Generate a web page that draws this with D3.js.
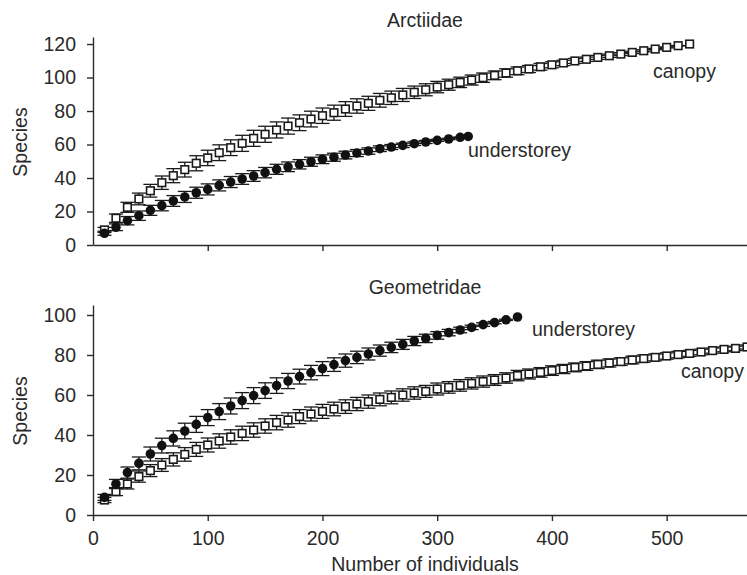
<!DOCTYPE html>
<html>
<head>
<meta charset="utf-8">
<style>
  body { margin: 0; background: #fff; }
  svg { display: block; font-family: "Liberation Sans", Arial, sans-serif; }
  .axis path, .axis line { stroke: #2a2a2a; stroke-width: 1.4; }
  .axis text { font-size: 19.5px; fill: #2a2a2a; }
  .lbl { font-size: 19.5px; fill: #2a2a2a; }
</style>
</head>
<body>
<div id="chart"></div>
<script src="https://d3js.org/d3.v7.min.js"></script>
<script>
// sample sizes (number of individuals)
const arcCanopyN = d3.range(10, 521, 10);
const arcUnderN = d3.range(10, 321, 10).concat([327]);
const geoUnderN = d3.range(10, 371, 10);
const geoCanopyN = d3.range(10, 571, 10);

// Arctiidae - canopy
const arcCanopy = [9, 16, 22.5, 27.5, 32.4, 37.2, 41.4, 45, 48.8, 52, 55.1, 58.1, 60.7,
  63.7, 66.1, 68.7, 71, 73, 75.2, 77.2, 79, 81.2, 83, 84.6, 86.4, 87.9, 89.6, 91.2, 92.7,
  94.3, 95.7, 97.1, 98.5, 99.9, 101.3, 102.7, 104, 105.1, 106.4, 107.6, 108.7, 109.9,
  110.9, 112, 113, 114, 115, 116, 117, 118, 119, 120];
const arcCanopyErr = [1.5, 2.5, 3, 3.5, 3.8, 4, 4.2, 4.4, 4.5, 4.6, 4.7, 4.7, 4.8, 4.8,
  4.8, 4.8, 4.8, 4.7, 4.7, 4.6, 4.5, 4.4, 4.3, 4.2, 4.1, 4, 3.9, 3.7, 3.6, 3.4, 3.3, 3.1,
  3, 2.8, 2.6, 2.5, 2.3, 2.1, 2, 1.8, 1.6, 1.5, 1.3, 1.2, 1, 0.9, 0.7, 0.6, 0.4, 0.3, 0.1, 0];

// Arctiidae - understorey
const arcUnder = [7, 10.6, 14.5, 17.5, 20.7, 23.5, 26.3, 28.7, 31.2, 33.2, 35.6, 37.6,
  39.4, 41.2, 43.2, 45.2, 46.7, 48.2, 49.7, 51.2, 52.4, 53.7, 54.9, 56.1, 57.5, 58.5,
  59.5, 60.5, 61.5, 62.5, 63.3, 64.3, 64.8];
const arcUnderErr = [1.2, 2, 2.5, 2.8, 3, 3.1, 3.2, 3.3, 3.3, 3.3, 3.3, 3.3, 3.2, 3.2,
  3.1, 3, 2.9, 2.8, 2.7, 2.6, 2.4, 2.3, 2.1, 1.9, 1.7, 1.5, 1.3, 1.1, 0.9, 0.6, 0.4, 0.2, 0];

// Geometridae - understorey
const geoUnder = [8.8, 15.5, 21.2, 25.8, 30.5, 34.7, 38.3, 42, 45.3, 48.7, 51.7, 54.5,
  57.2, 59.7, 62.2, 64.7, 67, 69.2, 71.2, 73.2, 75.2, 77.2, 78.8, 80.5, 82.2, 83.8, 85.3,
  87, 88.3, 89.8, 91.2, 92.5, 93.8, 95.2, 96.2, 97.6, 99];
const geoUnderErr = [1.5, 2.3, 2.8, 3.2, 3.5, 3.7, 3.8, 3.9, 4, 4, 4, 4, 4, 4, 3.9, 3.9,
  3.8, 3.7, 3.6, 3.5, 3.4, 3.3, 3.1, 3, 2.8, 2.6, 2.5, 2.3, 2.1, 1.9, 1.6, 1.4, 1.1, 0.9,
  0.6, 0.3, 0];

// Geometridae - canopy
const geoCanopy = [7.5, 11.7, 15.5, 19.2, 22.2, 25, 27.8, 30.3, 32.8, 35, 37, 39, 40.8,
  42.5, 44.5, 46.2, 47.5, 49.2, 50.5, 51.8, 53, 54.2, 55.5, 56.7, 57.8, 58.8, 60, 61,
  61.8, 63, 63.8, 64.8, 65.8, 66.7, 67.5, 68.5, 69.7, 70.5, 71.3, 72.2, 73, 73.8, 74.5,
  75.3, 76, 76.7, 77.5, 78.2, 78.8, 79.5, 80.2, 80.8, 81.5, 82.2, 82.8, 83.3, 84];
const geoCanopyErr = [1.3, 2, 2.5, 2.8, 3, 3.2, 3.3, 3.4, 3.5, 3.5, 3.6, 3.6, 3.6, 3.6,
  3.6, 3.6, 3.6, 3.5, 3.5, 3.5, 3.4, 3.4, 3.3, 3.3, 3.2, 3.2, 3.1, 3.1, 3, 3, 2.9, 2.9,
  2.8, 2.8, 2.7, 2.6, 2.6, 2.5, 2.4, 2.4, 2.3, 2.2, 2.2, 2.1, 2, 1.9, 1.9, 1.8, 1.7, 1.6,
  1.6, 1.5, 1.4, 1.3, 1.2, 1.1, 1];

const xTicks = [0, 100, 200, 300, 400, 500];
const yTicksTop = [0, 20, 40, 60, 80, 100, 120];
const yTicksBottom = [0, 20, 40, 60, 80, 100];

const width = 747, height = 575;
const left = 93, right = 747;

const svg = d3.select('#chart').append('svg')
  .attr('width', width)
  .attr('height', height);

const x = d3.scaleLinear().domain([0, 570]).range([left, right]);

function panel(opts) {
  const y = d3.scaleLinear().domain([0, opts.yMax]).range([opts.bottom, opts.top]);
  const g = svg.append('g');

  // x axis
  const xAxis = d3.axisBottom(x).tickSize(6).tickSizeOuter(0).tickPadding(10);
  if (opts.xLabels) {
    xAxis.tickValues(xTicks).tickFormat(d3.format('d'));
  } else {
    xAxis.tickValues(xTicks.slice(1)).tickFormat('');
  }
  g.append('g').attr('class', 'axis')
    .attr('transform', `translate(0,${opts.bottom})`)
    .call(xAxis);

  // y axis
  g.append('g').attr('class', 'axis')
    .attr('transform', `translate(${left},0)`)
    .call(d3.axisLeft(y).tickValues(opts.yTicks).tickSize(6).tickSizeOuter(0).tickPadding(11));

  g.selectAll('.axis text').attr('fill', '#2a2a2a');

  // series
  opts.series.forEach(s => {
    const pts = s.n.map((n, i) => ({ n: n, v: s.v[i], e: s.e[i] }));
    const eb = g.append('g').attr('stroke', '#1a1a1a').attr('stroke-width', 1.3);
    pts.forEach(d => {
      if (d.e <= 0) return;
      const cx = x(d.n);
      eb.append('line').attr('x1', cx).attr('x2', cx)
        .attr('y1', y(d.v - d.e)).attr('y2', y(d.v + d.e));
      eb.append('line').attr('x1', cx - 7).attr('x2', cx + 7)
        .attr('y1', y(d.v - d.e)).attr('y2', y(d.v - d.e));
      eb.append('line').attr('x1', cx - 7).attr('x2', cx + 7)
        .attr('y1', y(d.v + d.e)).attr('y2', y(d.v + d.e));
    });
    if (s.shape === 'square') {
      g.append('g').selectAll('rect').data(pts).join('rect')
        .attr('x', d => x(d.n) - 3.8)
        .attr('y', d => y(d.v) - 3.8)
        .attr('width', 7.6).attr('height', 7.6)
        .attr('fill', '#fff').attr('stroke', '#1a1a1a').attr('stroke-width', 1.6);
    } else {
      g.append('g').selectAll('circle').data(pts).join('circle')
        .attr('cx', d => x(d.n))
        .attr('cy', d => y(d.v))
        .attr('r', 4.8)
        .attr('fill', '#111');
    }
  });

  // title
  g.append('text').attr('class', 'lbl')
    .attr('x', 425).attr('y', opts.titleY)
    .attr('text-anchor', 'middle')
    .text(opts.title);

  // y label
  g.append('text').attr('class', 'lbl')
    .attr('transform', `translate(27,${(opts.top + opts.bottom) / 2 + 1}) rotate(-90)`)
    .attr('text-anchor', 'middle')
    .text('Species');

  opts.notes.forEach(t => {
    g.append('text').attr('class', 'lbl')
      .attr('x', t.x).attr('y', t.y)
      .text(t.text);
  });
}

panel({
  title: 'Arctiidae', titleY: 27,
  top: 37, bottom: 245, yMax: 124.2, yTicks: yTicksTop, xLabels: false,
  series: [
    { n: arcCanopyN, v: arcCanopy, e: arcCanopyErr, shape: 'square' },
    { n: arcUnderN, v: arcUnder, e: arcUnderErr, shape: 'circle' }
  ],
  notes: [
    { text: 'canopy', x: 653, y: 78 },
    { text: 'understorey', x: 468, y: 157 }
  ]
});

panel({
  title: 'Geometridae', titleY: 294,
  top: 305, bottom: 515, yMax: 105, yTicks: yTicksBottom, xLabels: true,
  series: [
    { n: geoCanopyN, v: geoCanopy, e: geoCanopyErr, shape: 'square' },
    { n: geoUnderN, v: geoUnder, e: geoUnderErr, shape: 'circle' }
  ],
  notes: [
    { text: 'understorey', x: 532, y: 336 },
    { text: 'canopy', x: 681, y: 378 }
  ]
});

svg.append('text').attr('class', 'lbl')
  .attr('x', 425).attr('y', 571)
  .attr('text-anchor', 'middle')
  .text('Number of individuals');
</script>
</body>
</html>
